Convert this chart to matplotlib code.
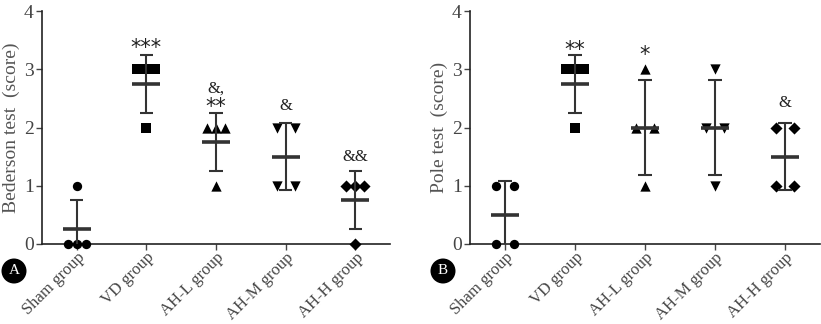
import numpy as np
import matplotlib
matplotlib.use("Agg")
import matplotlib.pyplot as plt
from matplotlib.patches import Ellipse

plt.rcParams['font.family'] = ['Liberation Serif', 'DejaVu Serif']

groups = ["Sham group", "VD group", "AH-L group", "AH-M group", "AH-H group"]
markers = ["o", "s", "^", "v", "D"]
marker_sizes = [45, 55, 55, 55, 38]

bederson = [
    [0, 0, 0, 1],
    [3, 3, 3, 2],
    [2, 2, 2, 1],
    [2, 2, 1, 1],
    [1, 1, 1, 0],
]
pole = [
    [1, 1, 0, 0],
    [3, 3, 3, 2],
    [3, 2, 2, 1],
    [3, 2, 2, 1],
    [2, 2, 1, 1],
]

annot_a = [(1, 3.36, "***"), (2, 2.66, "&,"), (2, 2.35, "**"), (3, 2.37, "&"), (4, 1.50, "&&")]
annot_b = [(1, 3.33, "**"), (2, 3.24, "*"), (4, 2.42, "&")]

fig = plt.figure(figsize=(8.21, 3.24), dpi=100)
ax_a = fig.add_axes([42 / 821, 1 - 244 / 324, (390 - 42) / 821, 233 / 324])
ax_b = fig.add_axes([470 / 821, 1 - 244 / 324, (820 - 470) / 821, 233 / 324])

ecol = "#333333"
tcol = "#444444"


def draw(ax, data, annots, ylabel, letter, lx):
    for i, vals in enumerate(data):
        vals = np.array(vals, dtype=float)
        xs = []
        ys = []
        for v in sorted(set(vals), reverse=True):
            n = int((vals == v).sum())
            offs = np.linspace(-0.13, 0.13, n) if n > 1 else [0.0]
            for o in offs:
                xs.append(i + o)
                ys.append(v)
        ax.scatter(xs, ys, marker=markers[i], s=marker_sizes[i], c="black",
                   linewidths=0, zorder=3, clip_on=False)
        m = vals.mean()
        sd = vals.std(ddof=1)
        ax.vlines(i, m - sd, m + sd, color=ecol, lw=1.5, zorder=4)
        ax.hlines([m - sd, m + sd], i - 0.095, i + 0.095, color=ecol, lw=1.5, zorder=4)
        ax.hlines(m, i - 0.2, i + 0.2, color=ecol, lw=2.6, zorder=4)
    for x, y, t in annots:
        fs = 15 if "*" in t else 12
        ax.text(x, y, t, ha="center", va="center", fontsize=fs, color="#222222",
                family=["DejaVu Sans"] if "*" in t else None)
    ax.set_xlim(-0.5, 4.5)
    ax.set_ylim(0, 4)
    ax.set_yticks([0, 1, 2, 3, 4])
    ax.set_xticks(range(len(groups)))
    ax.set_xticklabels(groups, rotation=45, ha="right", va="top",
                       rotation_mode="anchor", fontsize=12, color=tcol)
    ax.tick_params(axis="y", labelsize=14, colors=tcol, length=4, width=1, pad=2)
    ax.tick_params(axis="x", length=4, width=1, pad=0, colors=tcol)
    for s in ["top", "right"]:
        ax.spines[s].set_visible(False)
    for s in ["left", "bottom"]:
        ax.spines[s].set_color("#222222")
        ax.spines[s].set_linewidth(1.2)
    ax.set_ylabel(ylabel, fontsize=14, color="#555555", labelpad=3)
    el = Ellipse((lx / 821, 1 - 271 / 324), 25 / 821, 25 / 324,
                 transform=fig.transFigure, facecolor="black", edgecolor="none")
    fig.patches.append(el)
    fig.text(lx / 821, 1 - 271 / 324, letter, color="white", ha="center",
             va="center", fontsize=11)


draw(ax_a, bederson, annot_a, "Bederson test  (score)", "A", 14)
draw(ax_b, pole, annot_b, "Pole test  (score)", "B", 443)

fig.savefig("out.png", dpi=100)
